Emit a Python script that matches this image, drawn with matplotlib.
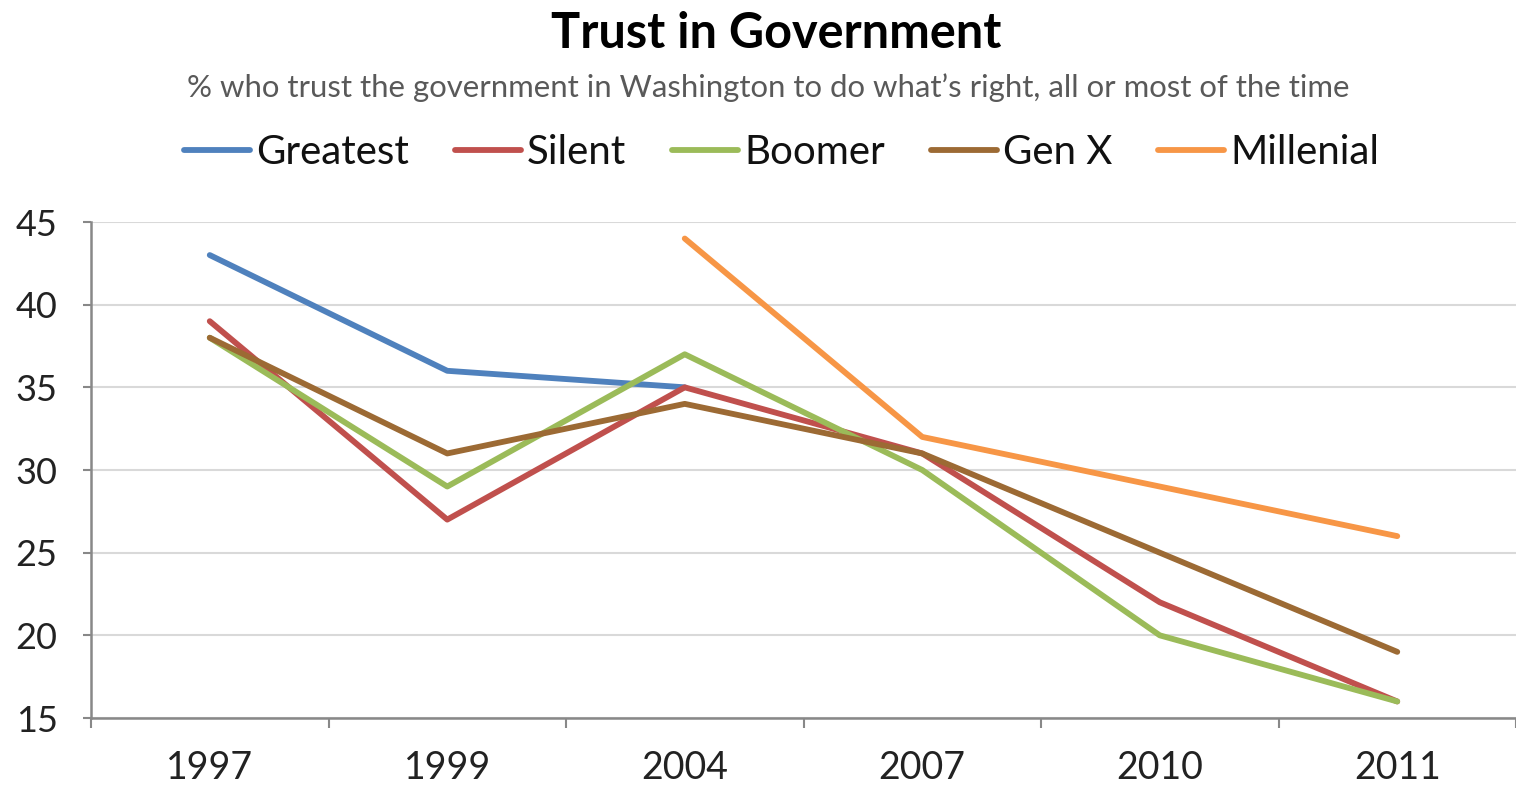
import matplotlib
matplotlib.use("Agg")
import matplotlib.pyplot as plt
import numpy as np

# chart data
years = ["1997", "1999", "2004", "2007", "2010", "2011"]
greatest = [43, 36, 35, None, None, None]
silent = [39, 27, 35, 31, 22, 16]
boomer = [38, 29, 37, 30, 20, 16]
genx = [38, 31, 34, 31, 25, 19]
millenial = [None, None, 44, 32, 29, 26]

series_names = ["Greatest", "Silent", "Boomer", "Gen X", "Millenial"]
colors = ["#4F81BD", "#C0504D", "#9BBB59", "#9C6A34", "#F79646"]

plt.rcParams['font.family'] = ['Lato', 'DejaVu Sans']


def to_arr(vals):
    return np.array([np.nan if v is None else v for v in vals], dtype=float)


def main():
    fig = plt.figure(figsize=(15.16, 7.85), dpi=100)
    ax = fig.add_axes([91 / 1516, 1 - 718 / 785, 1 - 91 / 1516, (718 - 222) / 785])

    x = np.arange(len(years))
    all_series = [greatest, silent, boomer, genx, millenial]
    for vals, name, col in zip(all_series, series_names, colors):
        ax.plot(x, to_arr(vals), color=col, lw=4.2, label=name,
                solid_capstyle='round', solid_joinstyle='round')

    ax.set_xlim(-0.5, len(years) - 0.5)
    ax.set_ylim(15, 45)
    ax.set_yticks(range(15, 46, 5))
    ax.set_xticks(x)
    ax.set_xticklabels(years)
    ax.set_xticks(np.arange(-0.5, len(years), 1), minor=True)
    ax.tick_params(axis='x', which='major', length=0, pad=23, labelsize=27, colors='#222222')
    ax.tick_params(axis='x', which='minor', length=7, width=1.5, color='#888888', direction='out')
    ax.tick_params(axis='y', length=6, width=1.5, color='#888888', pad=18, labelsize=26,
                   labelcolor='#222222')

    ax.grid(axis='y', color='#d9d9d9', lw=1.5)
    ax.set_axisbelow(True)
    for s in ['top', 'right']:
        ax.spines[s].set_visible(False)
    for s in ['left', 'bottom']:
        ax.spines[s].set_color('#888888')
        ax.spines[s].set_linewidth(1.8)

    fig.text(0.512, 1 - 33 / 785, "Trust in Government", ha='center', va='center',
             fontsize=35, fontweight='bold', color='black')
    fig.text(0.507, 1 - 88 / 785,
             "% who trust the government in Washington to do what\u2019s right, all or most of the time",
             ha='center', va='center', fontsize=22.4, color='#595959')

    leg = fig.legend(loc='center', bbox_to_anchor=(0.5155, 1 - 153 / 785), ncol=5,
                     frameon=False, fontsize=29, handlelength=1.64, handletextpad=0.15,
                     columnspacing=1.14, borderpad=0, borderaxespad=0)
    for t in leg.get_texts():
        t.set_color('#111111')

    fig.savefig("out.png", dpi=100, facecolor='white')
    return 0


if __name__ == "__main__":
    main()
